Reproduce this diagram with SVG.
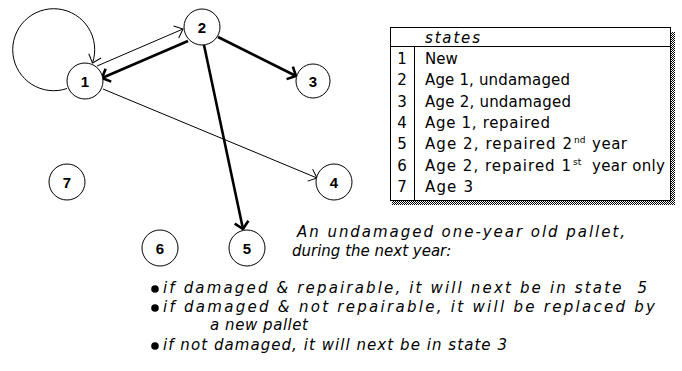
<svg xmlns="http://www.w3.org/2000/svg" width="682" height="371" viewBox="0 0 682 371">
  <style>
    .node circle { fill: #fff; stroke: #000; stroke-width: 1; }
    .node text { font-family: "Liberation Sans", Arial, sans-serif; font-weight: bold; font-size: 15px; text-anchor: middle; fill: #000; }
    .thin { fill: none; stroke: #000; stroke-width: 1; marker-end: url(#headThin); }
    .thick { fill: none; stroke: #000; stroke-width: 2.6; marker-end: url(#headThick); }
    .tbl { font-family: "DejaVu Sans", Verdana, sans-serif; font-size: 15px; fill: #000; }
    .num { text-anchor: middle; }
    .sup { font-size: 9px; }
    .note { font-family: "DejaVu Sans", Verdana, sans-serif; font-style: italic; font-size: 15px; fill: #000; }
  </style>
  <defs>
    <marker id="headThin" markerUnits="userSpaceOnUse" viewBox="0 0 20 20" markerWidth="20" markerHeight="20" refX="10" refY="10" orient="auto" overflow="visible">
      <path d="M2.5,3.5 L10,10 L2.5,16.5" fill="none" stroke="#000" stroke-width="1"/>
    </marker>
    <marker id="headThick" markerUnits="userSpaceOnUse" viewBox="0 0 20 20" markerWidth="20" markerHeight="20" refX="10" refY="10" orient="auto" overflow="visible">
      <path d="M3,3 L10,10 L3,17" fill="none" stroke="#000" stroke-width="2.6"/>
    </marker>
    <pattern id="dither" width="2" height="2" patternUnits="userSpaceOnUse">
      <rect x="0" y="0" width="1" height="1" fill="#000"/>
      <rect x="1" y="1" width="1" height="1" fill="#000"/>
    </pattern>
  </defs>

  <rect width="682" height="371" fill="#fff"/>

  <!-- transitions between states -->
  <g id="connectors">
    <path class="thin" d="M67,88.5 A41,41 0 1 1 92.5,63"/>
    <path class="thin" d="M97,66 L183,29"/>
    <path class="thick" d="M188,41 L102,78"/>
    <path class="thick" d="M218,37 L296,76"/>
    <path class="thick" d="M204,45 L243,229"/>
    <path class="thin" d="M103,89 L317,178"/>
  </g>

  <!-- state nodes -->
  <g id="node1" class="node"><circle cx="85" cy="81" r="18"/><text x="85" y="86.5">1</text></g>
  <g id="node2" class="node"><circle cx="202" cy="27" r="18"/><text x="202" y="32.5">2</text></g>
  <g id="node3" class="node"><circle cx="313" cy="81" r="17"/><text x="313" y="86.5">3</text></g>
  <g id="node4" class="node"><circle cx="334" cy="182" r="18"/><text x="334" y="187.5">4</text></g>
  <g id="node5" class="node"><circle cx="247" cy="248" r="18"/><text x="247" y="253.5">5</text></g>
  <g id="node6" class="node"><circle cx="160" cy="248" r="18"/><text x="160" y="253.5">6</text></g>
  <g id="node7" class="node"><circle cx="67" cy="182" r="18"/><text x="67" y="187.5">7</text></g>

  <!-- legend table of states -->
  <g id="states-table">
    <rect x="671" y="32" width="4" height="173" fill="url(#dither)"/>
    <rect x="392" y="201" width="283" height="4" fill="url(#dither)"/>
    <rect x="390.5" y="27.5" width="280" height="173" fill="#fff" stroke="#000" stroke-width="1"/>
    <line x1="390.5" y1="46.5" x2="670.5" y2="46.5" stroke="#000" stroke-width="1"/>
    <line x1="414.5" y1="46.5" x2="414.5" y2="200.5" stroke="#000" stroke-width="1"/>
    <text class="tbl" x="425" y="43" font-style="italic" textLength="55">states</text>
    <g class="tbl num">
      <text x="402" y="64">1</text>
      <text x="402" y="85.3">2</text>
      <text x="402" y="106.7">3</text>
      <text x="402" y="128">4</text>
      <text x="402" y="149.3">5</text>
      <text x="402" y="170.7">6</text>
      <text x="402" y="192">7</text>
    </g>
    <g class="tbl">
      <text x="425" y="64">New</text>
      <text x="425" y="85.3" textLength="145">Age 1, undamaged</text>
      <text x="425" y="106.7" textLength="146">Age 2, undamaged</text>
      <text x="425" y="128" textLength="125">Age 1, repaired</text>
      <text x="425" y="149.3" textLength="147">Age 2, repaired 2</text>
      <text class="sup" x="574" y="143">nd</text>
      <text x="592" y="149.3" textLength="35">year</text>
      <text x="425" y="170.7" textLength="146">Age 2, repaired 1</text>
      <text class="sup" x="573" y="164.5">st</text>
      <text x="592" y="170.7" textLength="73">year only</text>
      <text x="425" y="192" textLength="48">Age 3</text>
    </g>
  </g>

  <!-- explanatory notes -->
  <g id="notes">
    <text class="note" x="297" y="237" textLength="328">An undamaged one-year old pallet,</text>
    <text class="note" x="292" y="255.5">during the next year:</text>
    <circle cx="155" cy="289" r="3.8" fill="#000"/>
    <text class="note" x="163" y="293" textLength="484" xml:space="preserve">if damaged &amp; repairable, it will next be in state  5</text>
    <circle cx="155" cy="308" r="3.8" fill="#000"/>
    <text class="note" x="163" y="312" textLength="492">if damaged &amp; not repairable, it will be replaced by</text>
    <text class="note" x="210" y="330" textLength="98">a new pallet</text>
    <circle cx="155" cy="346" r="3.8" fill="#000"/>
    <text class="note" x="163" y="349.5" textLength="344">if not damaged, it will next be in state 3</text>
  </g>
</svg>
